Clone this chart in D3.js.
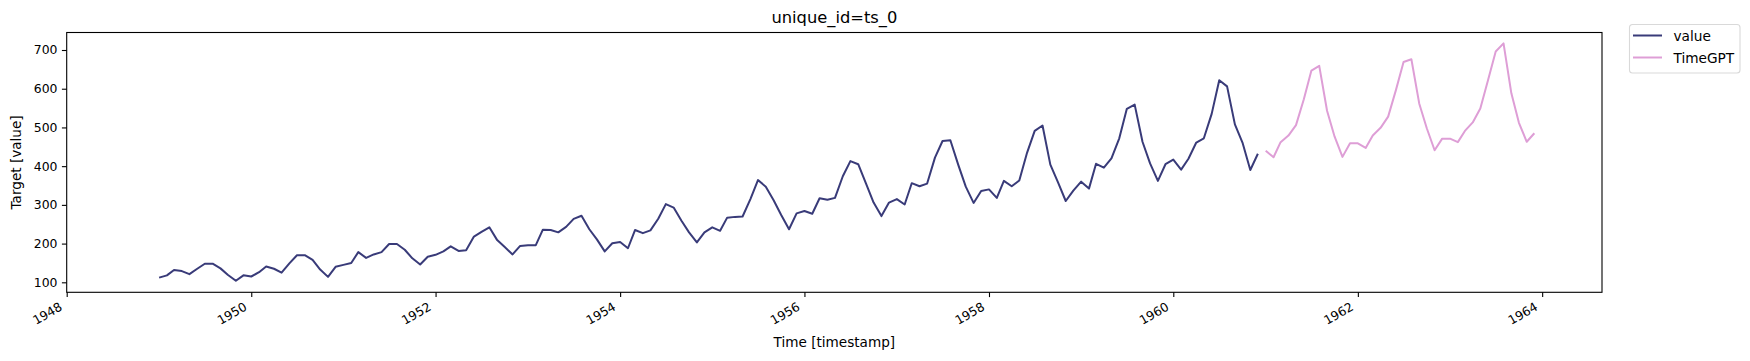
<!DOCTYPE html>
<html>
<head>
<meta charset="utf-8">
<script src="https://cdn.jsdelivr.net/npm/d3@7"></script>
<style>
  body { margin: 0; background: #fff; }
  svg { display: block; font-family: "DejaVu Sans", sans-serif; }
</style>
</head>
<body>
<svg></svg>
<script>
const svgWidth = 1750
const svgHeight = 361
const plot = { left: 66.7, right: 1602, top: 32.5, bottom: 292.3 }

// monthly air passengers, 1949-01 .. 1960-12
const valueStart = "1949-01"
const values = [
  112, 118, 132, 129, 121, 135, 148, 148, 136, 119, 104, 118,
  115, 126, 141, 135, 125, 149, 170, 170, 158, 133, 114, 140,
  145, 150, 178, 163, 172, 178, 199, 199, 184, 162, 146, 166,
  171, 180, 193, 181, 183, 218, 230, 242, 209, 191, 172, 194,
  196, 196, 236, 235, 229, 243, 264, 272, 237, 211, 180, 201,
  204, 188, 235, 227, 234, 264, 302, 293, 259, 229, 203, 229,
  242, 233, 267, 269, 270, 315, 364, 347, 312, 274, 237, 278,
  284, 277, 317, 313, 318, 374, 413, 405, 355, 306, 271, 306,
  315, 301, 356, 348, 355, 422, 465, 467, 404, 347, 305, 336,
  340, 318, 362, 348, 363, 435, 491, 505, 404, 359, 310, 337,
  360, 342, 406, 396, 420, 472, 548, 559, 463, 407, 362, 405,
  417, 391, 419, 461, 472, 535, 622, 606, 508, 461, 390, 432
]

// TimeGPT forecast, 1961-01 .. 1963-12
const forecastStart = "1961-01"
const forecast = [
  440, 423, 462, 479, 506, 573, 647, 659, 543, 476, 424, 459,
  459, 447, 479, 499, 528, 597, 669, 676, 562, 498, 441, 471,
  471, 462, 491, 513, 549, 623, 696, 717, 588, 512, 463, 485
]

const yTicks = [100, 200, 300, 400, 500, 600, 700]
const xTickYears = [1948, 1950, 1952, 1954, 1956, 1958, 1960, 1962, 1964]

const parseMonth = d3.timeParse("%Y-%m")
const toSeries = (start, arr) => arr.map((v, i) => ({ date: d3.timeMonth.offset(parseMonth(start), i), value: v }))
const valueData = toSeries(valueStart, values)
const forecastData = toSeries(forecastStart, forecast)

const svg = d3.select("svg")
    .attr("width", svgWidth)
    .attr("height", svgHeight)

const xScale = d3.scaleTime()
    .domain([new Date(1948, 0, 1), new Date(1964, 7, 25)])
    .range([plot.left, plot.right])
const yScale = d3.scaleLinear()
    .domain([74.2, 745.2])
    .range([plot.bottom, plot.top])

// y axis
const yAxis = svg.append("g")
    .attr("transform", `translate(${plot.left},0)`)
    .call(d3.axisLeft(yScale).tickValues(yTicks).tickSize(4.8).tickSizeOuter(0).tickPadding(4.5))
yAxis.select(".domain").remove()
yAxis.selectAll("line").attr("stroke", "#000").attr("stroke-width", 1.1)
yAxis.selectAll("text").attr("font-size", 12.4).attr("fill", "#000").attr("font-family", "DejaVu Sans")

// x axis
const xAxis = svg.append("g")
    .attr("transform", `translate(0,${plot.bottom})`)
    .call(d3.axisBottom(xScale).tickValues(xTickYears.map(y => new Date(y, 0, 1))).tickSize(4.8).tickSizeOuter(0).tickFormat(d3.timeFormat("%Y")))
xAxis.select(".domain").remove()
xAxis.selectAll("line").attr("stroke", "#000").attr("stroke-width", 1.1)
xAxis.selectAll("text")
    .attr("font-size", 12.4)
    .attr("fill", "#000")
    .attr("font-family", "DejaVu Sans")
    .attr("text-anchor", "end")
    .attr("dy", null)
    .attr("y", null)
    .attr("transform", "translate(-4,17) rotate(-30)")

// lines
const line = d3.line()
    .x(d => xScale(d.date))
    .y(d => yScale(d.value))

svg.append("path")
    .datum(valueData)
    .attr("d", line)
    .attr("fill", "none")
    .attr("stroke", "#393b79")
    .attr("stroke-width", 2)
    .attr("stroke-linejoin", "round")

svg.append("path")
    .datum(forecastData)
    .attr("d", line)
    .attr("fill", "none")
    .attr("stroke", "#de9ed6")
    .attr("stroke-width", 2)
    .attr("stroke-linejoin", "round")

// frame
svg.append("rect")
    .attr("x", plot.left)
    .attr("y", plot.top)
    .attr("width", plot.right - plot.left)
    .attr("height", plot.bottom - plot.top)
    .attr("fill", "none")
    .attr("stroke", "#000")
    .attr("stroke-width", 1.1)

// titles
svg.append("text")
    .text("unique_id=ts_0")
    .attr("x", (plot.left + plot.right) / 2)
    .attr("y", 22.5)
    .attr("text-anchor", "middle")
    .attr("font-size", 16.3)

svg.append("text")
    .text("Time [timestamp]")
    .attr("x", (plot.left + plot.right) / 2)
    .attr("y", 347)
    .attr("text-anchor", "middle")
    .attr("font-size", 13.6)

svg.append("text")
    .text("Target [value]")
    .attr("transform", `translate(21,${(plot.top + plot.bottom) / 2}) rotate(-90)`)
    .attr("text-anchor", "middle")
    .attr("font-size", 13.6)

// legend
const legend = svg.append("g").attr("transform", "translate(1629.5,24.5)")
legend.append("rect")
    .attr("width", 110.5)
    .attr("height", 48.5)
    .attr("rx", 3)
    .attr("fill", "#fff")
    .attr("stroke", "#d9d9d9")
    .attr("stroke-width", 1.1)

const legendItems = [
  { key: "value", color: "#393b79" },
  { key: "TimeGPT", color: "#de9ed6" }
]
legendItems.forEach((item, i) => {
  const y = 11 + i * 22
  legend.append("line")
      .attr("x1", 3.5).attr("x2", 32.5)
      .attr("y1", y).attr("y2", y)
      .attr("stroke", item.color)
      .attr("stroke-width", 2)
  legend.append("text")
      .text(item.key)
      .attr("x", 44)
      .attr("y", y + 5)
      .attr("font-size", 13.7)
})
</script>
</body>
</html>
